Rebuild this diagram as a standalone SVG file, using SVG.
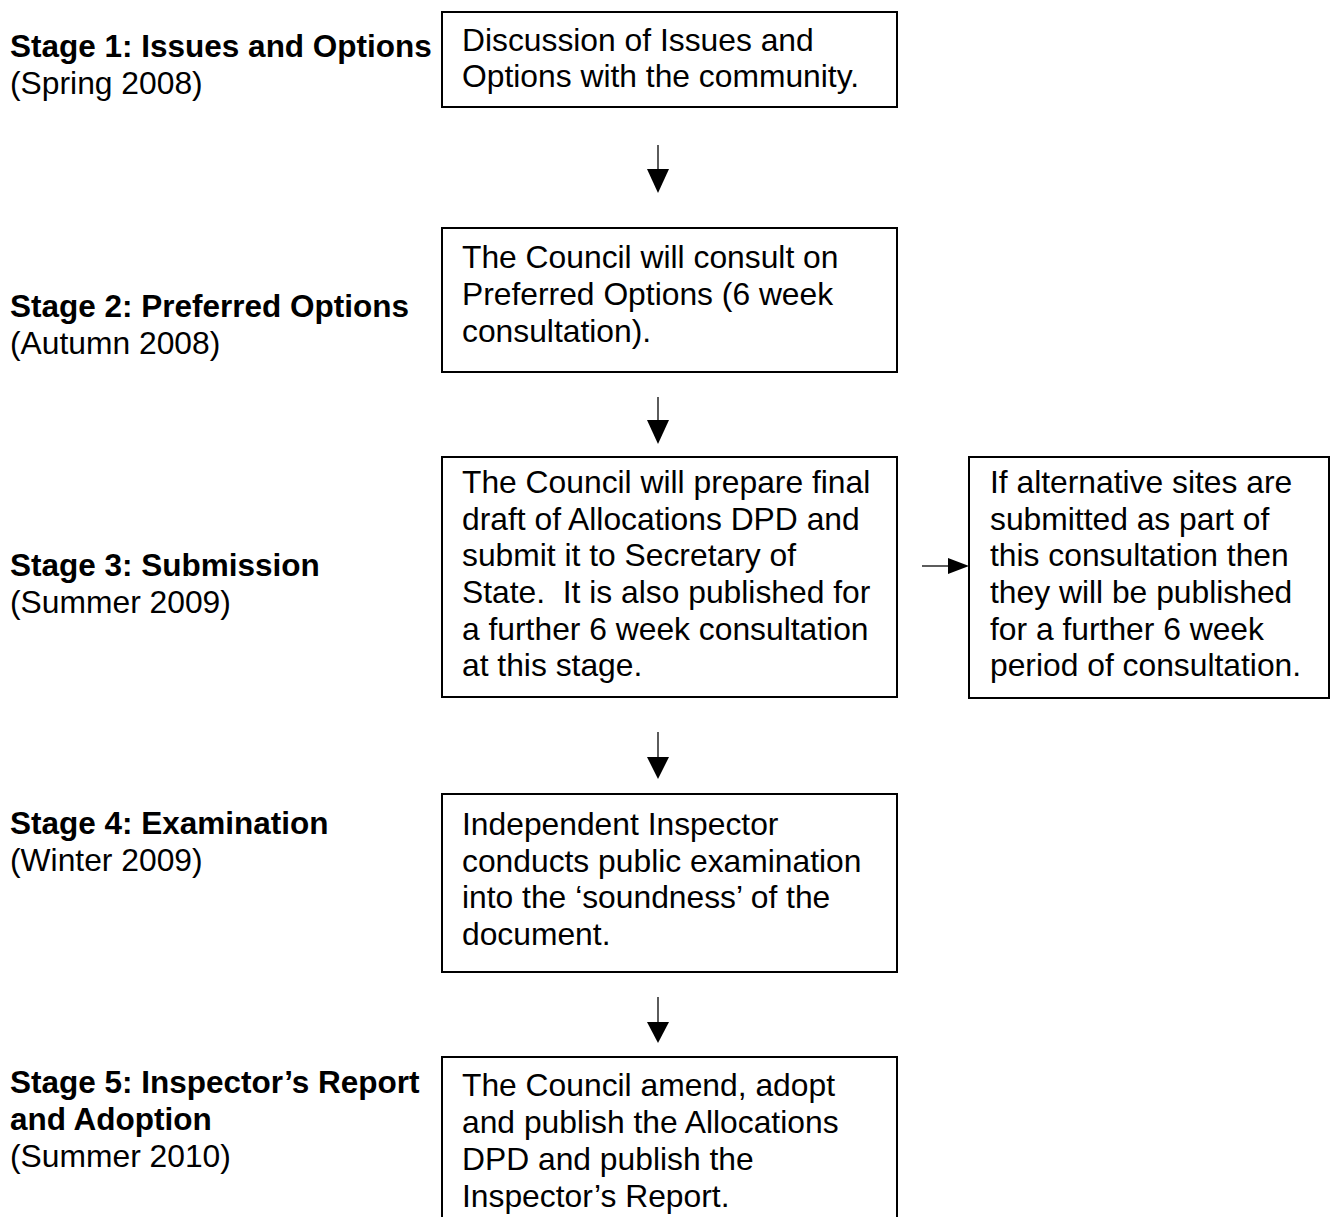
<svg xmlns="http://www.w3.org/2000/svg" width="1333" height="1217" viewBox="0 0 1333 1217">
<style>
text{font-family:"Liberation Sans",Arial,sans-serif;font-size:31.8px;fill:#000;white-space:pre}
.b{font-weight:bold;font-size:31.5px}
.box{fill:#fff;stroke:#000;stroke-width:2}
.ln{stroke:#333;stroke-width:1.6;fill:none}
.hd{fill:#000}
</style>
<rect width="1333" height="1217" fill="#fff"/>
<g id="labels">
<g id="stage1"><text class="b" x="10" y="57">Stage 1: Issues and Options</text><text x="10" y="94">(Spring 2008)</text></g>
<g id="stage2"><text class="b" x="10" y="317">Stage 2: Preferred Options</text><text x="10" y="354">(Autumn 2008)</text></g>
<g id="stage3"><text class="b" x="10" y="576">Stage 3: Submission</text><text x="10" y="613">(Summer 2009)</text></g>
<g id="stage4"><text class="b" x="10" y="834">Stage 4: Examination</text><text x="10" y="871">(Winter 2009)</text></g>
<g id="stage5"><text class="b" x="10" y="1093">Stage 5: Inspector’s Report</text><text class="b" x="10" y="1130">and Adoption</text><text x="10" y="1167">(Summer 2010)</text></g>
</g>
<g id="node1"><rect class="box" x="442" y="12" width="455" height="95"/>
<text x="462" y="51">Discussion of Issues and</text><text x="462" y="87">Options with the community.</text></g>
<g id="node2"><rect class="box" x="442" y="228" width="455" height="144"/>
<text x="462" y="268">The Council will consult on</text><text x="462" y="305">Preferred Options (6 week</text><text x="462" y="342">consultation).</text></g>
<g id="node3"><rect class="box" x="442" y="457" width="455" height="240"/>
<text x="462" y="493">The Council will prepare final</text><text x="462" y="530">draft of Allocations DPD and</text><text x="462" y="566">submit it to Secretary of</text><text x="462" y="603" xml:space="preserve">State.  It is also published for</text><text x="462" y="640">a further 6 week consultation</text><text x="462" y="676">at this stage.</text></g>
<g id="node6"><rect class="box" x="969" y="457" width="360" height="241"/>
<text x="990" y="493">If alternative sites are</text><text x="990" y="530">submitted as part of</text><text x="990" y="566">this consultation then</text><text x="990" y="603">they will be published</text><text x="990" y="640">for a further 6 week</text><text x="990" y="676">period of consultation.</text></g>
<g id="node4"><rect class="box" x="442" y="794" width="455" height="178"/>
<text x="462" y="835">Independent Inspector</text><text x="462" y="872">conducts public examination</text><text x="462" y="908">into the ‘soundness’ of the</text><text x="462" y="945">document.</text></g>
<g id="node5"><rect class="box" x="442" y="1057" width="455" height="200"/>
<text x="462" y="1096">The Council amend, adopt</text><text x="462" y="1133">and publish the Allocations</text><text x="462" y="1170">DPD and publish the</text><text x="462" y="1207">Inspector’s Report.</text></g>
<g id="connectors">
<line class="ln" x1="658" y1="145" x2="658" y2="170"/><polygon class="hd" points="647,169 669,169 658,193"/>
<line class="ln" x1="658" y1="397" x2="658" y2="421"/><polygon class="hd" points="647,420 669,420 658,444"/>
<line class="ln" x1="658" y1="732" x2="658" y2="758"/><polygon class="hd" points="647,757 669,757 658,779"/>
<line class="ln" x1="658" y1="997" x2="658" y2="1023"/><polygon class="hd" points="647,1022 669,1022 658,1043"/>
<line class="ln" x1="922" y1="566" x2="949" y2="566"/><polygon class="hd" points="948,558 948,574 969,566"/>
</g>
</svg>
